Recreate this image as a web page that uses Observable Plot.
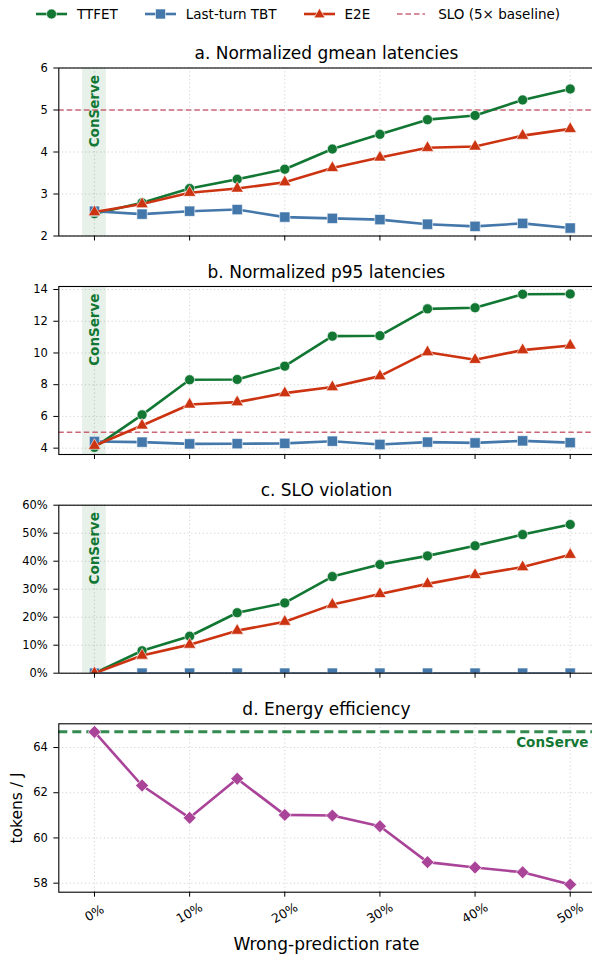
<!DOCTYPE html>
<html><head><meta charset="utf-8">
<script src="https://cdn.jsdelivr.net/npm/d3@7"></script>
<script src="https://cdn.jsdelivr.net/npm/@observablehq/plot@0.6"></script>
<style>
body{margin:0;background:#fff;overflow:hidden}
#wrap{position:relative;width:592px;height:958px;font-family:"DejaVu Sans",sans-serif;color:#000}
.panel{position:absolute;left:0}
#legend{position:absolute;top:0;left:36px;height:28px;display:flex;align-items:center;font-size:13.5px;white-space:nowrap}
.item{display:flex;align-items:center;margin-right:27px}
.item svg{margin-right:10px}
</style></head>
<body><div id="wrap"><div id="legend"></div></div>
<script>
// ---------------- data ----------------
const rates = [0, 5, 10, 15, 20, 25, 30, 35, 40, 45, 50];
const xTicks = [0, 10, 20, 30, 40, 50];
const xTickLabels = ["0%", "10%", "20%", "30%", "40%", "50%"];

const seriesNames = ["TTFET", "Last-turn TBT", "E2E"];
const sloLabel = "SLO (5× baseline)";

const gmeanTTFET = [2.53, 2.79, 3.13, 3.35, 3.59, 4.07, 4.42, 4.77, 4.87, 5.24, 5.50];
const gmeanTBT   = [2.59, 2.52, 2.59, 2.63, 2.45, 2.42, 2.39, 2.28, 2.23, 2.30, 2.19];
const gmeanE2E   = [2.57, 2.76, 3.03, 3.13, 3.28, 3.62, 3.87, 4.10, 4.13, 4.39, 4.55];

const p95TTFET = [4.05, 6.10, 8.31, 8.33, 9.17, 11.06, 11.09, 12.78, 12.85, 13.70, 13.72];
const p95TBT   = [4.42, 4.38, 4.27, 4.28, 4.30, 4.44, 4.23, 4.38, 4.33, 4.46, 4.35];
const p95E2E   = [4.15, 5.43, 6.75, 6.90, 7.47, 7.85, 8.54, 10.05, 9.57, 10.18, 10.47];

const violTTFET = [0, 8.0, 13.2, 21.6, 25.1, 34.5, 38.8, 41.9, 45.5, 49.5, 53.1];
const violTBT   = [0, 0, 0, 0, 0, 0, 0, 0, 0, 0, 0];
const violE2E   = [0, 6.3, 10.2, 15.2, 18.4, 24.5, 28.3, 31.9, 35.1, 37.9, 42.3];

const energy = [64.69, 62.32, 60.89, 62.62, 61.02, 60.99, 60.52, 58.93, 58.69, 58.48, 57.94];
const conserveEnergy = 64.7;
const sloValue = 5;
const conserveSpan = [-1.25, 1.25];

const gmeanTicks = [2, 3, 4, 5, 6];
const p95Ticks = [4, 6, 8, 10, 12, 14];
const violTicks = [0, 10, 20, 30, 40, 50, 60];
const energyTicks = [58, 60, 62, 64];

const titles = ["a. Normalized gmean latencies", "b. Normalized p95 latencies", "c. SLO violation", "d. Energy efficiency"];

// ---------------- style ----------------
const GREEN = "#117733", BLUE = "#4477AA", RED = "#CC3311", PURPLE = "#AA4499", ROSE = "#CC6677";
const seriesColors = [GREEN, BLUE, RED];
const seriesSymbols = ["circle", "square", "triangle"];
const seriesR = [5, 5.8, 4.6];
const FONT = "DejaVu Sans";
const xDomain = [-3.75, 52.5];

const rows = (arr) => rates.map((x, i) => ({x, y: arr[i]}));

function gridMarks(yTicks) {
  const g = {stroke: "#9a9a9a", strokeOpacity: 0.55, strokeDasharray: "1.2,2.6", strokeWidth: 0.8};
  return [Plot.gridX({ticks: xTicks, ...g}), Plot.gridY({ticks: yTicks, ...g})];
}

function seriesMarks(arrs) {
  const m = [];
  arrs.forEach((arr, k) => {
    m.push(Plot.line(rows(arr), {x: "x", y: "y", stroke: seriesColors[k], strokeWidth: 2.6, clip: "frame"}));
    m.push(Plot.dot(rows(arr), {x: "x", y: "y", symbol: seriesSymbols[k], r: seriesR[k], fill: seriesColors[k], stroke: "white", strokeWidth: 0.6, clip: "frame"}));
  });
  return m;
}

function makePanel(cfg) {
  const marks = [...gridMarks(cfg.yTicks)];
  if (cfg.shade) {
    marks.push(Plot.rect([{x1: conserveSpan[0], x2: conserveSpan[1]}], {x1: "x1", x2: "x2", fill: GREEN, fillOpacity: 0.1}));
    marks.push(Plot.text(["ConServe"], {x: () => (conserveSpan[0] + conserveSpan[1]) / 2, frameAnchor: "top", dy: 7, rotate: -90, textAnchor: "end", lineAnchor: "middle", fontSize: 13.5, fontWeight: "bold", fill: GREEN}));
  }
  if (cfg.slo) {
    marks.push(Plot.ruleY([sloValue], {stroke: ROSE, strokeWidth: 1.5, strokeDasharray: "5.5,3"}));
  }
  marks.push(...cfg.marks);
  marks.push(Plot.frame({stroke: "black", strokeWidth: 1.1}));
  marks.push(Plot.axisY({ticks: cfg.yTicks, tickFormat: cfg.yFormat || (d => d), tickSize: 5, tickPadding: 6, fontSize: 11.5, label: null}));
  marks.push(Plot.axisX({ticks: xTicks, tickSize: 5, tickFormat: () => "", label: null}));
  marks.push(Plot.text([cfg.title], {frameAnchor: "top", dy: -9, lineAnchor: "bottom", fontSize: 17, fill: "black"}));
  if (cfg.bottom) marks.push(...cfg.bottom);
  const svg = Plot.plot({
    width: 592, height: cfg.height,
    marginLeft: 58.3, marginRight: -1.5, marginTop: cfg.marginTop, marginBottom: cfg.height - cfg.marginTop - cfg.frameH,
    x: {domain: xDomain},
    y: {domain: cfg.yDomain},
    style: {fontFamily: FONT, color: "black", background: "transparent"},
    marks
  });
  svg.classList.add("panel");
  svg.style.top = cfg.top + "px";
  document.getElementById("wrap").appendChild(svg);
}

makePanel({top: 30, height: 214, marginTop: 37.5, frameH: 168, yDomain: [2, 6], yTicks: gmeanTicks, title: titles[0], shade: true, slo: true,
  marks: seriesMarks([gmeanTTFET, gmeanTBT, gmeanE2E])});
makePanel({top: 244, height: 218, marginTop: 42, frameH: 168, yDomain: [3.6, 14.19], yTicks: p95Ticks, title: titles[1], shade: true, slo: true,
  marks: seriesMarks([p95TTFET, p95TBT, p95E2E])});
makePanel({top: 462, height: 219, marginTop: 42.7, frameH: 168, yDomain: [0, 60], yTicks: violTicks, yFormat: d => d + "%", title: titles[2], shade: true, slo: false,
  marks: seriesMarks([violTTFET, violTBT, violE2E])});
makePanel({top: 681, height: 277, marginTop: 42.3, frameH: 168.4, yDomain: [57.6, 65.05], yTicks: energyTicks, title: titles[3], shade: false, slo: false,
  marks: [
    Plot.ruleY([conserveEnergy], {stroke: GREEN, strokeOpacity: 0.85, strokeWidth: 3, strokeDasharray: "9,5"}),
    Plot.text(["ConServe"], {y: () => conserveEnergy, frameAnchor: "right", dx: -5.5, dy: 11, textAnchor: "end", lineAnchor: "middle", fontSize: 13.5, fontWeight: "bold", fill: GREEN}),
    Plot.line(rows(energy), {x: "x", y: "y", stroke: PURPLE, strokeWidth: 2.6, clip: "frame"}),
    Plot.dot(rows(energy), {x: "x", y: "y", symbol: "diamond2", r: 5.8, fill: PURPLE, stroke: "white", strokeWidth: 0.6, clip: "frame"})
  ],
  bottom: [
    Plot.text(xTicks, {x: d => d, text: (d, i) => xTickLabels[i], frameAnchor: "bottom", dy: 21, rotate: -30, textAnchor: "middle", lineAnchor: "middle", fontSize: 12.5, fill: "black"}),
    Plot.text(["Wrong-prediction rate"], {frameAnchor: "bottom", dy: 58, lineAnchor: "bottom", fontSize: 17, fill: "black"}),
    Plot.text(["tokens / J"], {frameAnchor: "left", dx: -41.5, rotate: -90, textAnchor: "middle", lineAnchor: "middle", fontSize: 15.5, fill: "black"})
  ]});

// ---------------- legend ----------------
const legend = document.getElementById("legend");
function swatch(k) {
  const c = seriesColors[k];
  let marker = "";
  if (k === 0) marker = `<circle cx="15.5" cy="7" r="5" fill="${c}" stroke="white" stroke-width="0.6"/>`;
  if (k === 1) marker = `<rect x="10.5" y="2" width="10" height="10" fill="${c}" stroke="white" stroke-width="0.6"/>`;
  if (k === 2) marker = `<path d="M15.5,1.2 L21,10.8 L10,10.8 Z" fill="${c}" stroke="white" stroke-width="0.6"/>`;
  return `<svg width="31" height="14"><line x1="0" x2="31" y1="7" y2="7" stroke="${c}" stroke-width="2.6"/>${marker}</svg>`;
}
seriesNames.forEach((name, k) => {
  const d = document.createElement("div");
  d.className = "item";
  d.innerHTML = swatch(k) + `<span>${name}</span>`;
  legend.appendChild(d);
});
const s = document.createElement("div");
s.className = "item";
s.innerHTML = `<svg width="31" height="14"><line x1="0" x2="28" y1="7" y2="7" stroke="${ROSE}" stroke-width="1.5" stroke-dasharray="5.5,3"/></svg><span>${sloLabel}</span>`;
legend.appendChild(s);
</script>
</body></html>
